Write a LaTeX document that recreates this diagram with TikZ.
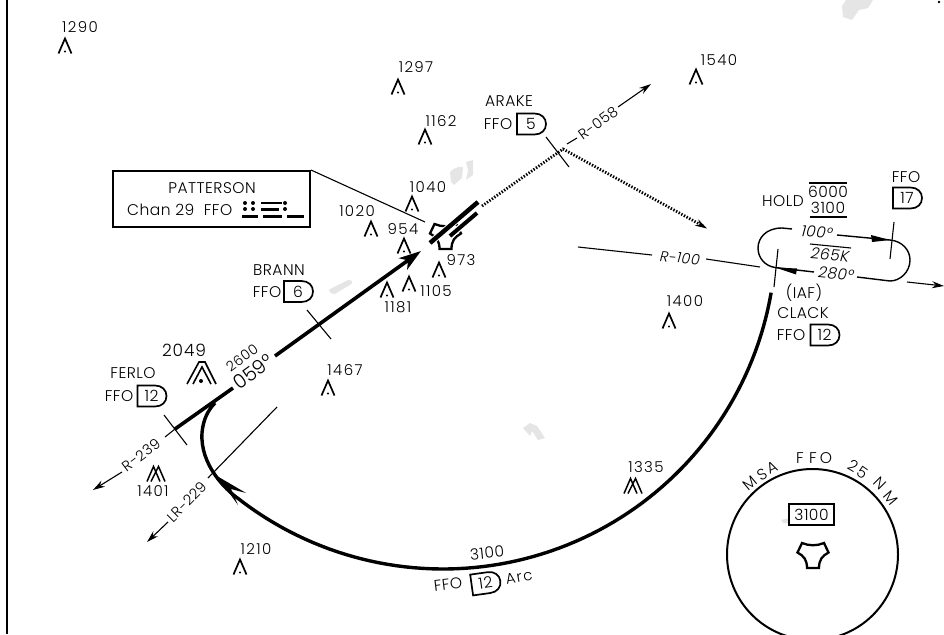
\documentclass[tikz,border=0pt]{standalone}
\usepackage{fontspec}
\setmainfont{Poppins}[UprightFont=* Light,SlantedFont=* Light Italic,ItalicFont=* Light Italic]
\usetikzlibrary{arrows.meta}
\tikzset{
  x=1pt,y=-1pt,
  lbl/.style={font=\fontsize{15.5}{16}\selectfont\addfontfeature{LetterSpace=3},inner sep=0pt},
  sm/.style={font=\fontsize{15}{16}\selectfont\addfontfeature{LetterSpace=9},inner sep=0pt},
  rad/.style={font=\fontsize{14.5}{16}\selectfont\addfontfeature{LetterSpace=3},inner sep=0pt},
  thin line/.style={line width=1.1pt},
  thick route/.style={line width=3.6pt},
  tip/.style={-{Stealth[length=12pt,width=7pt]}},
  blob/.style={fill=black!10,draw=none},
  peak/.pic={\draw[line width=1.7pt,miter limit=10] (-6.5,7.5) -- (0,-7.5) -- (6.5,7.5); \fill (0,5.5) circle (1.1);},
  dpeak/.pic={\draw[line width=1.5pt,miter limit=10] (-9,7.5) -- (-2.5,-7.5) -- (4,7.5)  (-5,7.5) -- (2.5,-7.5) -- (9,7.5);},
  dme/.pic={\draw[line width=1.7pt,line join=miter] (-14.5,-10.5) -- (3,-10.5) .. controls (10,-10.5) and (14.5,-6) .. (14.5,0) .. controls (14.5,6) and (10,10.5) .. (3,10.5) -- (-14.5,10.5) -- cycle;
    \node[lbl,transform shape] at (-0.5,0) {\tikzpictext};},
  vortac/.pic={\draw[line width=2.3pt,line join=miter,fill=white] (-11,-12) .. controls (-4,-9) and (4,-9) .. (11,-12) -- (15.5,-2.5) .. controls (9,1) and (6,5) .. (6,13) -- (-6,13) .. controls (-6,5) and (-9,1) .. (-15.5,-2.5) -- cycle;}
}
\begin{document}
\begin{tikzpicture}
\useasboundingbox (0,0) rectangle (944,634);
\clip (0,0) rectangle (944,634);
% water blobs
\fill[blob] (846,0) -- (873,0) -- (868,8) -- (859,10) -- (852,20) -- (843,17) -- (842,6) -- cycle;
\fill[blob] (450,172) .. controls (453,168) and (460,166) .. (463,167) -- (462,178) -- (454,185) -- (451,182) -- cycle;
\fill[blob] (466,162) -- (473,160) -- (473,175) -- (466,180) -- (468,170) -- cycle;
\fill[blob,rounded corners=2pt] (328,290) -- (350,279) -- (353,283) -- (333,295) -- cycle;
\fill[blob] (523,428) -- (530,423) -- (537,426) -- (545,438) -- (538,440) -- (532,431) -- (530,436) -- cycle;
\fill[blob] (781,520) -- (789,518) -- (789,523) -- (783,523) -- cycle;
% frame
\coordinate (frameTop) at (7,0); \coordinate (frameBot) at (7,634);
\draw[line width=2pt] (frameTop) -- (frameBot);
% elevations
\foreach \nm/\px/\py/\lx/\ly/\t in {a/65/46/80/27/1290,b/398/87/416/67/1297,c/425/137/441/121/1162,d/412/204/428/187/1040,e/371/229/357/211/1020,f/404/246/403/229/954,g/439/270/461/260/973,h/409/284/436/291/1105,i/387/290/398/307/1181,j/328/388/345/370/1467,k/696/77/719/60/1540,l/669/321/685/301/1400,m/240/567/256/549/1210}{
  \pic at (\px,\py) {peak};
  \node[sm] (elev\nm) at (\lx,\ly) {\t};
}
\pic at (156,474) {dpeak};
\node[sm] (e1401) at (153,491) {1401};
\pic at (633,486) {dpeak};
\node[sm] (e1335) at (646,467) {1335};
\draw[line width=1.6pt,miter limit=10] (187,384) -- (199,362) -- (205,362) -- (216,384) (193,384) -- (202,367) -- (211,384);
\fill (201,381) circle (2);
\node[font=\fontsize{17}{17}\selectfont\addfontfeature{LetterSpace=5},inner sep=0pt] (e2049) at (184,350) {2049};
% airport
\pic at (445.5,236) {vortac};
\draw[white,line width=6.5pt] (430,243) -- (478,202) (450,236) -- (477,213);
\draw[line width=4.5pt] (430,243) -- (478,202);
\draw[line width=4pt] (450,236) -- (477,213);
% PATTERSON box
\node[draw,line width=2pt,minimum width=197pt,minimum height=56pt,inner sep=0pt] (patt) at (211.5,199) {};
\node[lbl] (pattname) at (212,188.5) {PATTERSON};
\node[lbl,anchor=west] (pattchan) at (127,210) {Chan 29\ \ FFO};
\coordinate (vorEdge) at (425,222);
\draw[thin line] (patt.north east) -- (vorEdge);
\foreach \x/\y in {245/203,253/203,245/209,253/209,285/203,285/209}{\fill (\x,\y) circle (2);}
\draw[line width=2.2pt] (242,216.5) -- (258,216.5) (261,203) -- (282,203) (261,209.5) -- (279,209.5) (263,216.5) -- (282,216.5) (287,216.5) -- (304,216.5);
% ARAKE
\node[lbl] (arake) at (509,101) {ARAKE};
\node[lbl] (arakeffo) at (498,124) {FFO};
\pic[pic text=5] at (531.5,124) {dme};
% BRANN
\node[lbl] (brann) at (279,270) {BRANN};
\node[lbl] (brannffo) at (267,292) {FFO};
\pic[pic text=6] at (298.5,291.5) {dme};
\coordinate (bt1) at (307,310); \coordinate (bt2) at (331,339);
\draw[thin line] (bt1) -- (bt2);
% FERLO
\node[lbl] (ferlo) at (133,373) {FERLO};
\node[lbl] (ferloffo) at (119,396) {FFO};
\pic[pic text=12] at (152,396) {dme};
% inbound route
\coordinate (in1) at (275,356); \coordinate (in2) at (421,251);
\draw[thick route,-{Stealth[length=22pt,width=14pt,inset=6pt]}] (in1) -- (in2);
\coordinate (in3) at (233,388); \coordinate (in4) at (175,429);
\draw[thick route] (in3) -- (in4);
\node[font=\fontsize{14}{14}\selectfont\addfontfeature{LetterSpace=3},inner sep=0pt,rotate=36] (alt) at (242,357.5) {2600};
\node[font=\fontsize{19.5}{20}\selectfont,inner sep=0pt,rotate=36] (crs) at (253,371.5) {059°};
% R-239
\coordinate (ft1) at (164,415); \coordinate (ft2) at (187,445);
\draw[thin line] (ft1) -- (ft2);
\coordinate (r239a) at (175,429); \coordinate (r239b) at (165,437);
\draw[thin line] (r239a) -- (r239b);
\node[rad,rotate=37] (r239) at (141,455) {R-239};
\coordinate (r239c) at (122,472); \coordinate (r239d) at (93,490);
\draw[thin line,tip] (r239c) -- (r239d);
% LR-229
\coordinate (lr1) at (277,407); \coordinate (lr2) at (208,478);
\draw[thin line] (lr1) -- (lr2);
\node[rad,rotate=45] (lr229) at (187,502) {LR-229};
\coordinate (lr3) at (168,522); \coordinate (lr4) at (147,542);
\draw[thin line,tip] (lr3) -- (lr4);
% DME arc and lead
\draw[line width=3.4pt] plot[domain=9.8:128,samples=80] ({443+333*cos(\x)},{236+333*sin(\x)})
   .. controls (226,490) and (200,465) .. (202,433) .. controls (203,420) and (208,410) .. (215,403);
\fill (217,476) -- (246,493) -- (231,489) -- (238,505) -- cycle;
% R-058, dotted
\coordinate (dot0) at (482,206); \coordinate (dot1) at (563,149); \coordinate (dot2) at (703,226);
\draw[line width=2.8pt,dash pattern=on 1.4pt off 1.6pt] (dot0) -- (dot1) -- (dot2);
\draw[thin line,-{Stealth[length=12pt,width=7pt]}] (700,224.5) -- (707,228.5);
\coordinate (at1) at (546,137); \coordinate (at2) at (569,167);
\draw[thin line] (at1) -- (at2);
\coordinate (r58a) at (567,144); \coordinate (r58b) at (577,138);
\draw[thin line] (r58a) -- (r58b);
\node[rad,rotate=36] (r058) at (598,123) {R-058};
\coordinate (r58c) at (618,107); \coordinate (r58d) at (651,84);
\draw[thin line,tip] (r58c) -- (r58d);
% R-100
\coordinate (r1a) at (578,247); \coordinate (r1b) at (652,255);
\draw[thin line] (r1a) -- (r1b);
\node[rad,rotate=-5] (r100) at (680,258) {\itshape R-100};
\coordinate (r1c) at (706,259); \coordinate (r1d) at (760,267);
\draw[thin line] (r1c) -- (r1d);
\coordinate (r1e) at (907,282); \coordinate (r1f) at (944,286);
\draw[thin line,tip] (r1e) -- (r1f);
% HOLD
\node[lbl] (hold) at (783,201) {HOLD};
\draw[line width=1.1pt] (809,183) -- (847,183) (810,217) -- (847,217);
\node[lbl] (h6000) at (828,192) {6000};
\node[lbl] (h3100) at (828,208) {3100};
\draw[line width=1.4pt] (792,229) -- (782,228) .. controls (766,228) and (758,238) .. (758,248) .. controls (758,258) and (765,266) .. (775,267.5) -- (814,272);
\draw[line width=1.4pt] (837,235) -- (890,240) .. controls (902,241) and (910,250) .. (910,260) .. controls (910,272) and (900,281) .. (890,281) -- (857,277);
\fill (890,240) -- (871,235) -- (872,242) -- cycle;
\fill (775,267.5) -- (797,268.5) -- (796,274.5) -- cycle;
\node[lbl,rotate=-5] (c100) at (817,232) {\itshape 100°};
\draw[line width=1.1pt] (810,244) -- (851,248);
\node[lbl,rotate=-5] (s265) at (830,255) {\itshape 265K};
\node[lbl,rotate=-5] (c280) at (836,274) {\itshape 280°};
\coordinate (hk1) at (778,249); \coordinate (hk2) at (774,287);
\draw[thin line] (hk1) -- (hk2);
\coordinate (hk3) at (894,222); \coordinate (hk4) at (890,259);
\draw[thin line] (hk3) -- (hk4);
\node[lbl] (f17) at (906,177) {FFO};
\pic[pic text=17] at (907.5,198) {dme};
\node[lbl] (iaf) at (804,293) {(IAF)};
\node[lbl] (clack) at (803,313) {CLACK};
\node[lbl] (cffo) at (791,335) {FFO};
\pic[pic text=12] at (825,335) {dme};
% arc labels
\node[lbl,rotate=6] (a3100) at (487,553) {3100};
\node[lbl,rotate=7] (affo) at (448,584) {FFO};
\pic[rotate=8,pic text=12] at (486,583) {dme};
\node[sm,rotate=10] (aarc) at (519,577) {Arc};
% MSA
\node[draw,line width=1.3pt,minimum width=45pt,minimum height=21pt,inner sep=0pt] (msabox) at (811.5,514.5) {};
\node[lbl] at (811.5,514.5) {3100};
\draw[line width=2pt] (812.5,554.5) circle (85.5);
\pic at (813,555) {vortac};
\foreach \x/\y/\r/\c in {750/483/40/M,762/475/30/S,772/468/25/A,800/458/0/F,813/458/0/F,826/458/0/O,853/466/-30/2,863/473/-35/5,880/483/-45/N,891/498/-50/M}{
  \node[lbl,rotate=\r] at (\x,\y) {\c};
}
% corner mark
\fill (939,2) circle (1.4);
\end{tikzpicture}
\end{document}
